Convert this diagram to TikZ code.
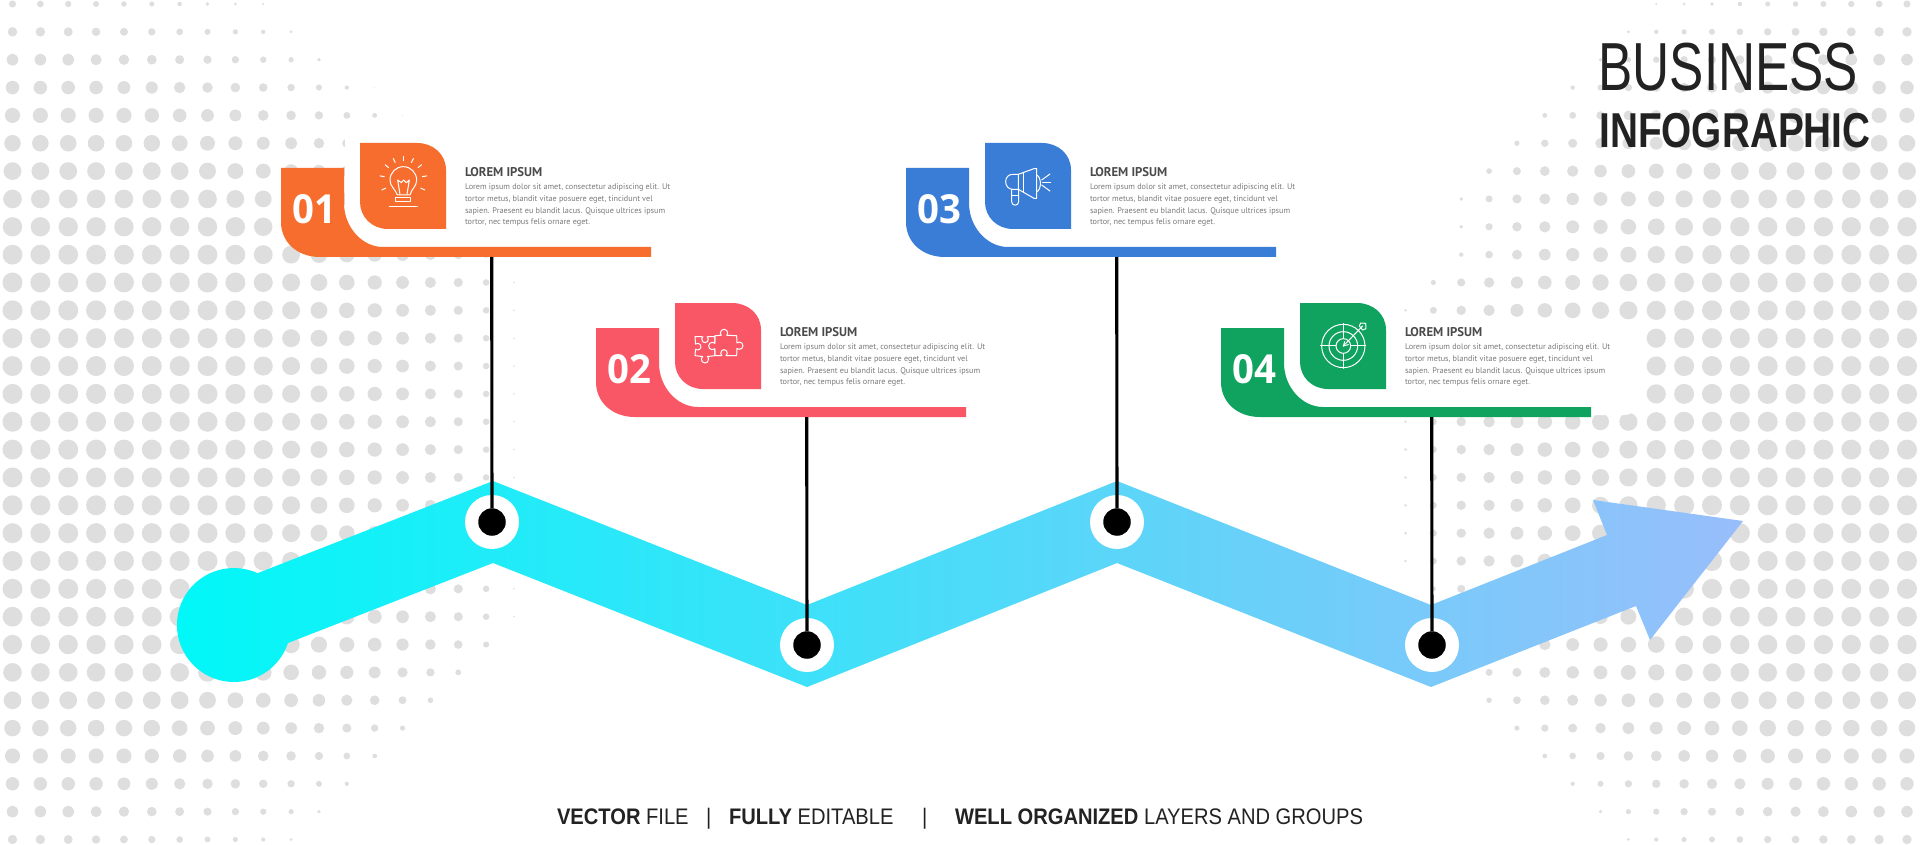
\documentclass[tikz,border=0pt]{standalone}
\usepackage{fontspec}
\setmainfont{PT Sans}
\newfontfamily\condf[FakeStretch=0.755]{Liberation Sans}
\newfontfamily\condb[FakeStretch=0.79]{Liberation Sans}
\newfontfamily\footf[FakeStretch=0.895]{Liberation Sans}
\newfontfamily\numf[FakeStretch=0.96]{Open Sans}
\definecolor{dotgrey}{HTML}{DEDEDE}
\definecolor{cOrange}{HTML}{F76D2E}
\definecolor{cRed}{HTML}{F95766}
\definecolor{cBlue}{HTML}{3A7DD6}
\definecolor{cGreen}{HTML}{0FA35F}
\definecolor{inkdark}{HTML}{222222}
\definecolor{inkbody}{HTML}{7A7A7A}
\definecolor{inktitle}{HTML}{4A4A4A}
\definecolor{bandstart}{HTML}{00F8F8}
\definecolor{bandend}{HTML}{98BEFA}
\tikzset{
  txt/.style={inner sep=0pt,outer sep=0pt},
  cardtitle/.style={txt,anchor=base west,text=inktitle,font=\fontsize{12.7}{14}\selectfont\bfseries},
  cardbody/.style={txt,anchor=north west,align=left,text=inkbody,font=\fontsize{8.2}{11.8}\selectfont},
  cardnum/.style={txt,anchor=base,text=white,font=\fontsize{40}{44}\selectfont\numf\bfseries},
  hubring/.style={circle,fill=white,minimum size=54pt,inner sep=0pt},
  hubdot/.style={circle,fill=black,minimum size=27.5pt,inner sep=0pt,outer sep=0pt},
  stem/.style={draw=black,line width=3.1pt},
  iconline/.style={draw=white,line width=1pt,line join=round,line cap=round},
  foottext/.style={txt,anchor=base west,text=inkdark,font=\fontsize{22.5}{24}\selectfont\footf},
}
\newcommand{\bulbicon}{%
  \begin{scope}[shift={(260,130)},x=0.3333pt,y=-0.3333pt]
    \path[iconline] (412,195) .. controls (405,175) and (390,170) .. (390,150) .. controls (390,128) and (408,110) .. (430,110) .. controls (452,110) and (470,128) .. (470,150) .. controls (470,170) and (455,175) .. (450,195) -- cycle;
    \path[iconline] (420,193) -- (413,150) -- (424,158) -- (431,150) -- (439,158) -- (448,150) -- (441,193);
    \path[iconline] (408,203) rectangle (452,215);
    \path[iconline] (388,229) -- (472,229);
    \foreach \a in {-205,-170,-140,-115,-90,-65,-40,-10,25}
      \path[iconline] (430,150) ++(\a:58) -- ++(\a:13);
  \end{scope}}
\newcommand{\puzzleicon}{%
  \begin{scope}[shift={(265,130)},x=0.3333pt,y=-0.3333pt]
    \path[iconline] (405,160) -- (405,140) -- (381.4,140.3) arc[start angle=-50,end angle=230,radius=10] -- (345,140) -- (346.6,162.3) arc[start angle=-130,end angle=130,radius=10] -- (345,197) -- (368,199.6) arc[start angle=230,end angle=-50,radius=11] -- (405,197) -- (405,177);
    \path[iconline] (405,137) -- (423.6,136) arc[start angle=140,end angle=400,radius=11] -- (470,137) -- (471,158.6) arc[start angle=-130,end angle=130,radius=11] -- (470,197) -- (438.4,196.7) arc[start angle=50,end angle=-230,radius=10] -- (405,197) -- (404,176.4) arc[start angle=50,end angle=310,radius=11] -- cycle;
  \end{scope}}
\newcommand{\megaicon}{%
  \begin{scope}[shift={(265,130)},x=0.3333pt,y=-0.3333pt]
    \path[iconline] (385,133) -- (432,116) -- (440,116) -- (440,205) -- (432,205) -- (385,178) -- cycle;
    \path[iconline] (385,133) -- (368,133) .. controls (355,133) and (347,143) .. (347,155) .. controls (347,167) and (355,178) .. (368,178) -- (385,178);
    \path[iconline] (402,127) -- (402,188);
    \path[iconline] (365,178) -- (365,215) .. controls (365,229) and (386,229) .. (386,215) -- (386,178);
    \path[iconline] (365,197) -- (386,197);
    \path[iconline] (440,135) .. controls (455,142) and (455,178) .. (440,186);
    \path[iconline] (455,150) -- (480,132);
    \path[iconline] (458,157) -- (482,157);
    \path[iconline] (455,165) -- (480,183);
  \end{scope}}
\newcommand{\targeticon}{%
  \begin{scope}[shift={(260,130)},x=0.3333pt,y=-0.3333pt]
    \foreach \r in {65,43,22} \path[iconline] (430,168) circle (\r);
    \path[iconline] (362,168) -- (408,168);
    \path[iconline] (452,168) -- (497,168);
    \path[iconline] (430,100) -- (430,146);
    \path[iconline] (430,190) -- (430,235);
    \path[iconline] (430,168) -- (488,108);
    \path[iconline] (430,168) -- (434,155);
    \path[iconline] (430,168) -- (445,164);
    \path[iconline] (478,108) -- (482,99) -- (497,100) -- (498,116) -- (488,120) -- cycle;
  \end{scope}}
% dx, dy, colour, number, icon, name
\newcommand{\infocard}[6]{%
  \colorlet{cardcol}{#3}%
  \begin{scope}[shift={(#1,#2)}]
    \fill[cardcol] (281,168) -- (344,168) -- (344,203) .. controls (344,227) and (362,247) .. (383,247) -- (651,247) -- (651,257) -- (320,257) .. controls (297,257) and (281,242) .. (281,222) -- cycle;
    \fill[cardcol] (360,143) -- (417,143) .. controls (433,143) and (446,154) .. (446,170) -- (446,229) -- (388,229) .. controls (372,229) and (360,217) .. (360,202) -- cycle;
    #5
    \node[cardnum] (num#6) at (314.8,223.7) {#4};
    \node[cardtitle] (title#6) at (465,176.7) {LOREM IPSUM};
    \node[cardbody] (body#6) at (465,183.7) {Lorem ipsum dolor sit amet, consectetur adipiscing elit. Ut\\tortor metus, blandit vitae posuere eget, tincidunt vel\\sapien. Praesent eu blandit lacus. Quisque ultrices ipsum\\tortor, nec tempus felis ornare eget.};
    \coordinate (bar#6) at (491.7,257);
  \end{scope}}
\begin{document}
\begin{tikzpicture}[x=1pt,y=-1pt]
\useasboundingbox (0,0) rectangle (1920,845);
\fill[white] (0,0) rectangle (1920,845);
% halftone background
\foreach \i in {0,...,68}{\foreach \j in {0,...,30}{%
  \pgfmathsetmacro\ppx{12.5+27.86*\i}%
  \pgfmathsetmacro\ppy{4+27.85*\j}%
  \pgfmathsetmacro\ptt{abs(\ppy-435)}%
  \pgfmathsetmacro\pdd{max(min(516,723-\ptt)-\ppx,\ppx-max(1400,min(1450,1240+1.15*\ptt),1197+\ptt))}%
  \ifdim\pdd pt>0pt
    \pgfmathsetmacro\puu{max(0,\ptt-145)/100}%
    \pgfmathsetmacro\prr{(10-0.79*\puu*\puu)*min(1,0.06*sqrt(\pdd))}%
    \fill[dotgrey] (\ppx,\ppy) circle (\prr);
  \fi
}}
% white panels behind the cards
\fill[white] (345,130) rectangle (680,250);
\fill[white,rounded corners=16pt] (1270,322) rectangle (1640,415);
% zig-zag arrow band
\shade[left color=bandstart,right color=bandend]
  (258,573) -- (493,481) -- (807,605) -- (1117,481) -- (1431,605) -- (1607,535) -- (1593,500) -- (1743,521) -- (1650,640) -- (1636,606) -- (1431,687) -- (1117,563) -- (807,687) -- (493,563) -- (288,643) arc[start angle=18.4,end angle=295,radius=57] -- cycle;
% cards
\infocard{0}{0}{cOrange}{01}{\bulbicon}{A}
\infocard{315}{160}{cRed}{02}{\puzzleicon}{B}
\infocard{625}{0}{cBlue}{03}{\megaicon}{C}
\infocard{940}{160}{cGreen}{04}{\targeticon}{D}
% hubs
\node[hubring] (ringA) at (492,522) {};
\node[hubring] (ringB) at (807,645) {};
\node[hubring] (ringC) at (1117,522) {};
\node[hubring] (ringD) at (1432,645) {};
\node[hubdot] (dotA) at (ringA) {};
\node[hubdot] (dotB) at (ringB) {};
\node[hubdot] (dotC) at (ringC) {};
\node[hubdot] (dotD) at (ringD) {};
\draw[stem] (barA) -- (dotA);
\draw[stem] (barB) -- (dotB);
\draw[stem] (barC) -- (dotC);
\draw[stem] (barD) -- (dotD);
% heading
\node[txt,anchor=base west,text=inkdark,font=\fontsize{68}{70}\selectfont\condf] (head1) at (1598.5,90.7) {BUSINESS};
\node[txt,anchor=base west,text=inkdark,font=\fontsize{49}{52}\selectfont\condb\bfseries] (head2) at (1599.5,148) {INFOGRAPHIC};
% footer
\node[foottext] (f1) at (557,824) {\textbf{VECTOR} FILE};
\node[foottext] (f2) at (706,824) {|};
\node[foottext] (f3) at (729,824) {\textbf{FULLY} EDITABLE};
\node[foottext] (f4) at (922,824) {|};
\node[foottext] (f5) at (955,824) {\textbf{WELL ORGANIZED} LAYERS AND GROUPS};
\end{tikzpicture}
\end{document}
